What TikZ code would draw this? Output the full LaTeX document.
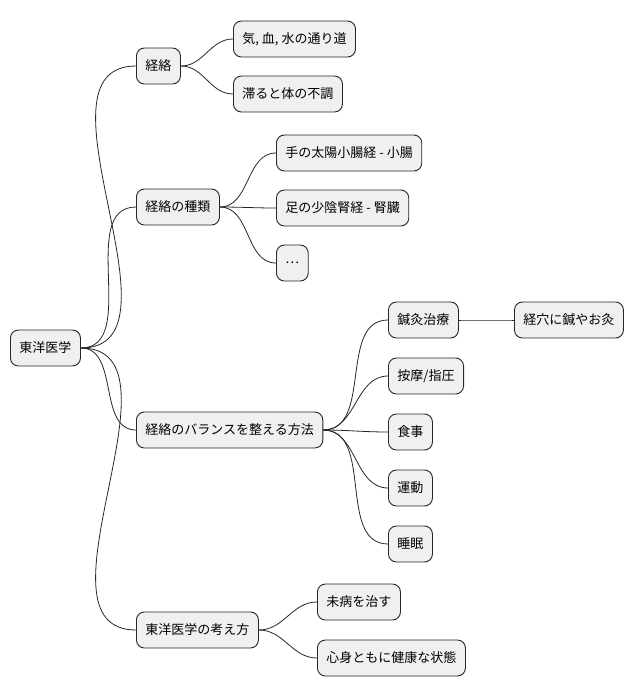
\documentclass[tikz,border=0pt]{standalone}
\usepackage{fontspec}
\setmainfont{Noto Sans CJK JP}
\usetikzlibrary{positioning}

\begin{document}
\begin{tikzpicture}[
        x=1pt, y=-1pt,
        topic/.style={rectangle, draw=black!85, fill=black!6, rounded corners=8pt, line width=0.9pt,
            minimum height=36pt, inner xsep=9pt, anchor=west, font=\fontsize{13}{15}\selectfont},
        branch/.style={draw=black!85, line width=0.8pt}
    ]
    \useasboundingbox (0,0) rectangle (642,696);

    % --- Nodes ---
    \node[topic] (root) at (10,348) {東洋医学};

    \node[topic] (keiraku) at (136,66) {経絡};
    \node[topic] (flow) at (233,39) {気, 血, 水の通り道};
    \node[topic] (stuck) at (233,94) {滞ると体の不調};

    \node[topic] (kinds) at (136,207) {経絡の種類};
    \node[topic] (small) at (276,153) {手の太陽小腸経 - 小腸};
    \node[topic] (kidney) at (276,208) {足の少陰腎経 - 腎臓};
    \node[topic] (more) at (276,263) {…};

    \node[topic] (balance) at (136,430) {経絡のバランスを整える方法};
    \node[topic] (shinkyu) at (388,320) {鍼灸治療};
    \node[topic] (tsubo) at (514,320) {経穴に鍼やお灸};
    \node[topic] (anma) at (388,376) {按摩/指圧};
    \node[topic] (meal) at (388,432) {食事};
    \node[topic] (move) at (388,488) {運動};
    \node[topic] (sleep) at (388,544) {睡眠};

    \node[topic] (idea) at (136,630) {東洋医学の考え方};
    \node[topic] (mibyo) at (317,602) {未病を治す};
    \node[topic] (health) at (317,658) {心身ともに健康な状態};

    % --- Connections ---
    \foreach \a/\b in {root/keiraku, root/kinds, root/balance, root/idea,
                       keiraku/flow, keiraku/stuck,
                       kinds/small, kinds/kidney, kinds/more,
                       balance/shinkyu, balance/anma, balance/meal, balance/move, balance/sleep,
                       shinkyu/tsubo,
                       idea/mibyo, idea/health}
        \draw[branch] (\a.east) to[out=0, in=180] (\b.west);
\end{tikzpicture}
\end{document}
